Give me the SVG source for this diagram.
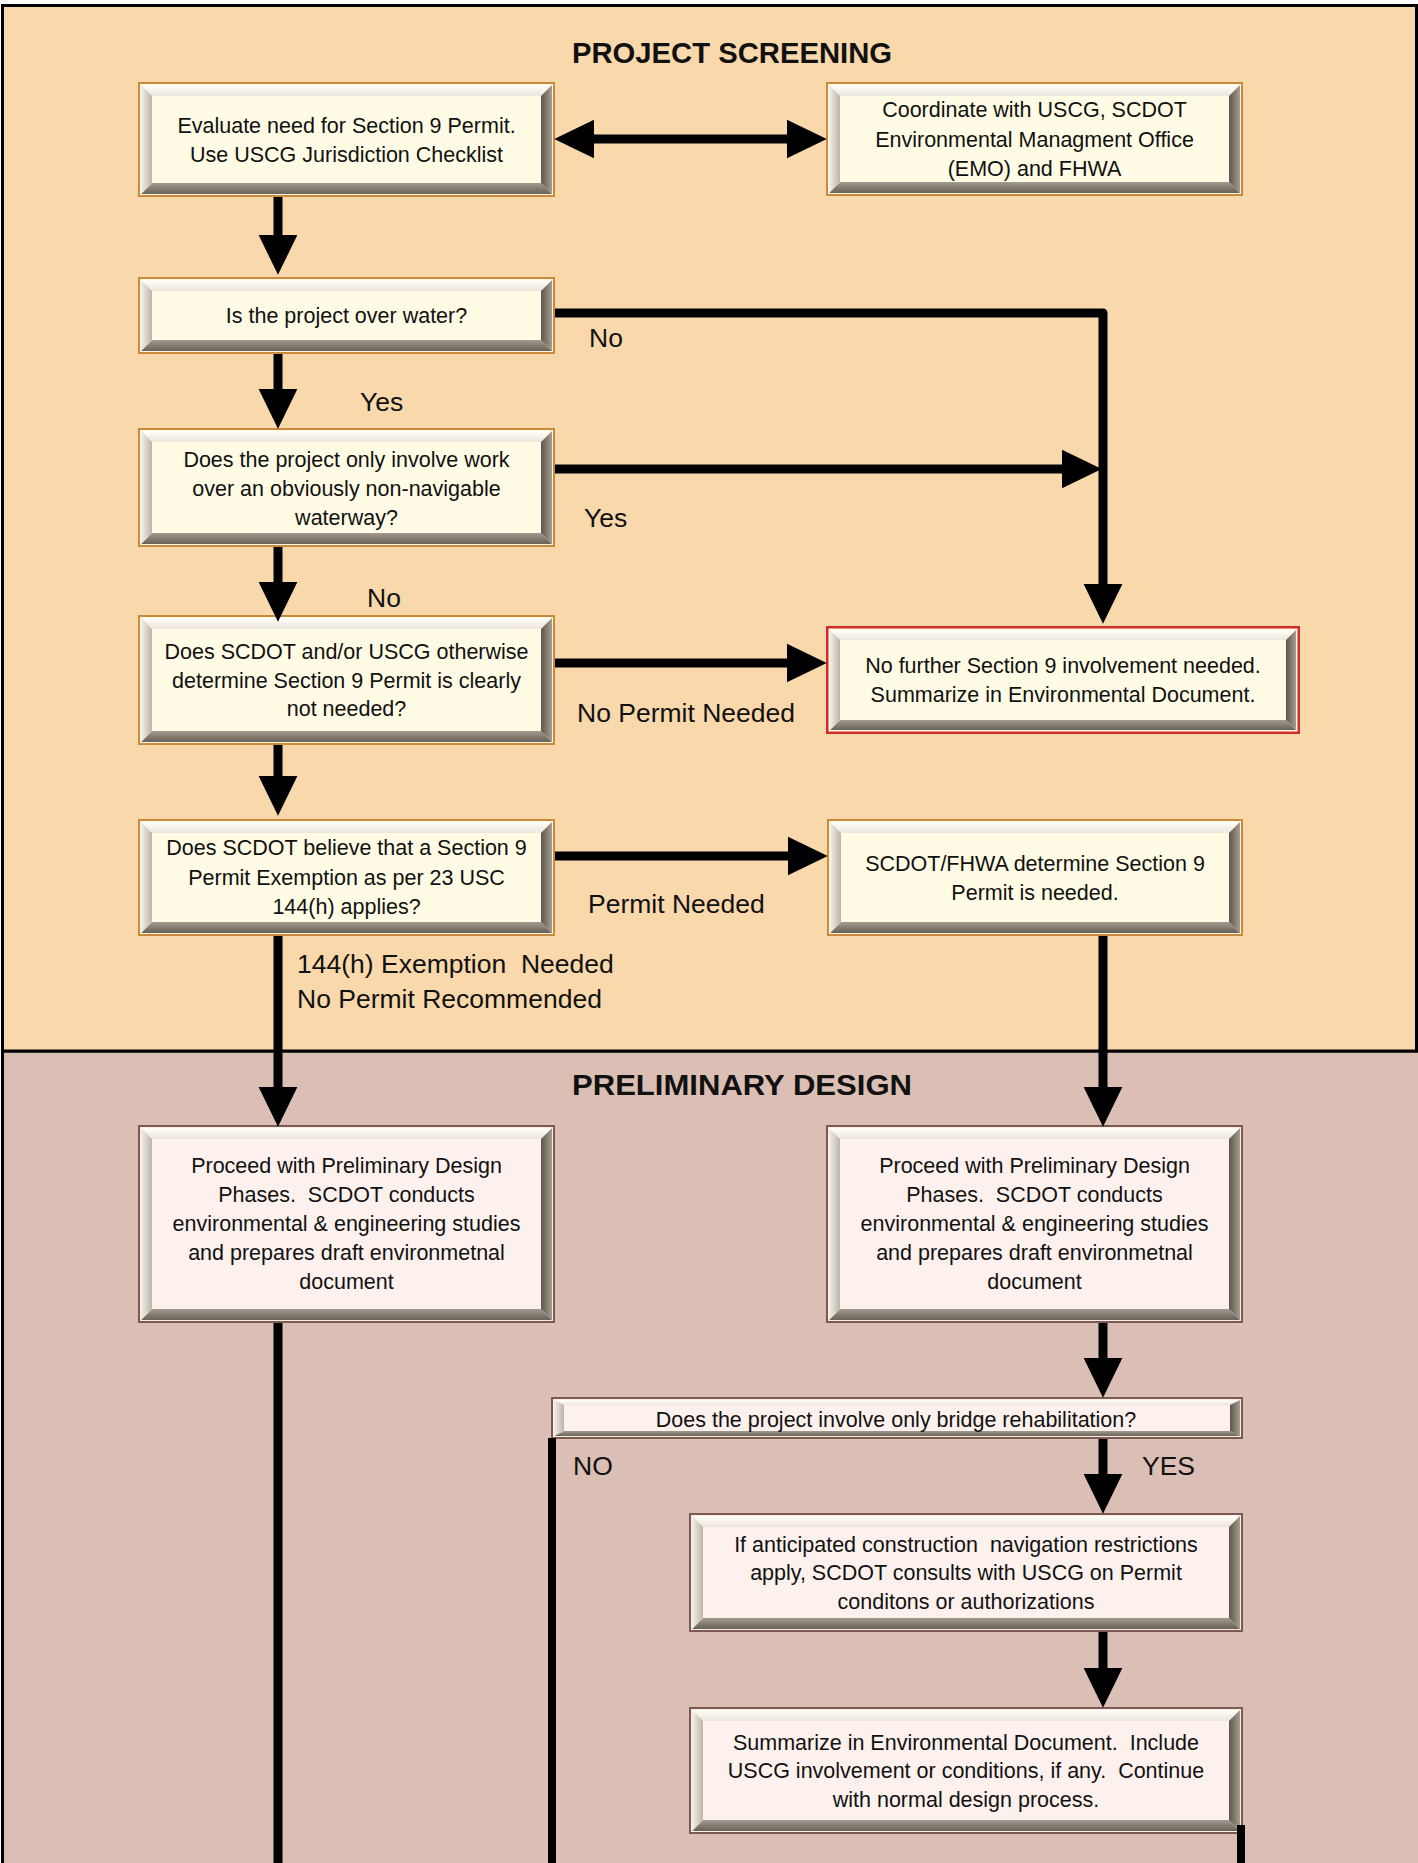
<svg xmlns="http://www.w3.org/2000/svg" width="1418" height="1863" viewBox="0 0 1418 1863">
<defs>
<linearGradient id="gTop" x1="0" y1="0" x2="0" y2="1"><stop offset="0" stop-color="#fffefa"/><stop offset="1" stop-color="#ece6da"/></linearGradient>
<linearGradient id="gLeft" x1="0" y1="0" x2="1" y2="0"><stop offset="0" stop-color="#f4f0e8"/><stop offset="1" stop-color="#bcb4a8"/></linearGradient>
<linearGradient id="gRight" x1="0" y1="0" x2="1" y2="0"><stop offset="0" stop-color="#5e564c"/><stop offset="1" stop-color="#a69d91"/></linearGradient>
<linearGradient id="gBot" x1="0" y1="0" x2="0" y2="1"><stop offset="0" stop-color="#a29a8f"/><stop offset="1" stop-color="#6a6258"/></linearGradient>
<marker id="ah" markerUnits="userSpaceOnUse" markerWidth="40" markerHeight="40" viewBox="0 0 39 38" refX="9" refY="19" orient="auto-start-reverse"><path d="M0,0 L39,19 L0,38 z" fill="#000"/></marker>
<style>
.bt{fill:url(#gTop)}.bl{fill:url(#gLeft)}.br{fill:url(#gRight)}.bb{fill:url(#gBot)}
.oy{fill:#fff8e0;stroke:#c98a3c;stroke-width:2}
.or{fill:#fff8e0;stroke:#d42a2a;stroke-width:2.5}
.op{fill:#fbeee9;stroke:#7d5a50;stroke-width:2}
.fy{fill:#fffbe4}.fp{fill:#fdf1ed}
.t{font-family:"Liberation Sans",Arial,sans-serif;font-size:21.5px;fill:#111;text-anchor:middle}
.lb{font-family:"Liberation Sans",Arial,sans-serif;font-size:26.5px;fill:#111}
.ti{font-family:"Liberation Sans",Arial,sans-serif;font-size:30px;font-weight:bold;fill:#111;text-anchor:middle}
.c{fill:none;stroke:#000;stroke-width:9;stroke-linejoin:round}
.ca{marker-end:url(#ah)}
.cd{marker-start:url(#ah);marker-end:url(#ah)}
</style>
</defs>

<g id="background">
<rect x="2.5" y="1051" width="1430" height="840" fill="#dbbfb4" stroke="#000" stroke-width="3"/>
<rect x="2.5" y="5.5" width="1414" height="1045.5" fill="#f9d8ab" stroke="#000" stroke-width="3"/>
</g>

<g id="titles">
<text class="ti" x="732" y="63" textLength="320" lengthAdjust="spacingAndGlyphs">PROJECT SCREENING</text>
<text class="ti" x="742" y="1095" textLength="340" lengthAdjust="spacingAndGlyphs">PRELIMINARY DESIGN</text>
</g>

<g id="node-evaluate">
<g transform="translate(138,82)">
<rect class="oy" x="1" y="1" width="415" height="113"/>
<polygon class="bt" points="3,3 414,3 403,14 14,14"/>
<polygon class="bb" points="3,112 414,112 403,101 14,101"/>
<polygon class="bl" points="3,3 14,14 14,101 3,112"/>
<polygon class="br" points="414,3 403,14 403,101 414,112"/>
<rect class="fy" x="14" y="14" width="389" height="87"/>
</g>
<text class="t" x="346.5" y="133">Evaluate need for Section 9 Permit.</text>
<text class="t" x="346.5" y="162">Use USCG Jurisdiction Checklist</text>
</g>

<g id="node-coordinate">
<g transform="translate(826,82)">
<rect class="oy" x="1" y="1" width="415" height="112"/>
<polygon class="bt" points="3,3 414,3 403,14 14,14"/>
<polygon class="bb" points="3,111 414,111 403,100 14,100"/>
<polygon class="bl" points="3,3 14,14 14,100 3,111"/>
<polygon class="br" points="414,3 403,14 403,100 414,111"/>
<rect class="fy" x="14" y="14" width="389" height="86"/>
</g>
<text class="t" x="1034.5" y="117">Coordinate with USCG, SCDOT</text>
<text class="t" x="1034.5" y="146.5">Environmental Managment Office</text>
<text class="t" x="1034.5" y="176">(EMO) and FHWA</text>
</g>

<g id="node-water">
<g transform="translate(138,277)">
<rect class="oy" x="1" y="1" width="415" height="75"/>
<polygon class="bt" points="3,3 414,3 403,14 14,14"/>
<polygon class="bb" points="3,74 414,74 403,63 14,63"/>
<polygon class="bl" points="3,3 14,14 14,63 3,74"/>
<polygon class="br" points="414,3 403,14 403,63 414,74"/>
<rect class="fy" x="14" y="14" width="389" height="49"/>
</g>
<text class="t" x="346.5" y="323">Is the project over water?</text>
</g>

<g id="node-nonnavigable">
<g transform="translate(138,428)">
<rect class="oy" x="1" y="1" width="415" height="117"/>
<polygon class="bt" points="3,3 414,3 403,14 14,14"/>
<polygon class="bb" points="3,116 414,116 403,105 14,105"/>
<polygon class="bl" points="3,3 14,14 14,105 3,116"/>
<polygon class="br" points="414,3 403,14 403,105 414,116"/>
<rect class="fy" x="14" y="14" width="389" height="91"/>
</g>
<text class="t" x="346.5" y="467">Does the project only involve work</text>
<text class="t" x="346.5" y="496">over an obviously non-navigable</text>
<text class="t" x="346.5" y="525">waterway?</text>
</g>

<g id="node-otherwise">
<g transform="translate(138,615)">
<rect class="oy" x="1" y="1" width="415" height="128"/>
<polygon class="bt" points="3,3 414,3 403,14 14,14"/>
<polygon class="bb" points="3,127 414,127 403,116 14,116"/>
<polygon class="bl" points="3,3 14,14 14,116 3,127"/>
<polygon class="br" points="414,3 403,14 403,116 414,127"/>
<rect class="fy" x="14" y="14" width="389" height="102"/>
</g>
<text class="t" x="346.5" y="659">Does SCDOT and/or USCG otherwise</text>
<text class="t" x="346.5" y="688">determine Section 9 Permit is clearly</text>
<text class="t" x="346.5" y="716">not needed?</text>
</g>

<g id="node-no-further">
<g transform="translate(826,626)">
<rect class="or" x="1.25" y="1.25" width="471.5" height="105.5"/>
<polygon class="bt" points="4,4 470,4 460,14 14,14"/>
<polygon class="bb" points="4,104 470,104 460,94 14,94"/>
<polygon class="bl" points="4,4 14,14 14,94 4,104"/>
<polygon class="br" points="470,4 460,14 460,94 470,104"/>
<rect class="fy" x="14" y="14" width="446" height="80"/>
</g>
<text class="t" x="1063" y="673">No further Section 9 involvement needed.</text>
<text class="t" x="1063" y="702">Summarize in Environmental Document.</text>
</g>

<g id="node-exemption">
<g transform="translate(138,819)">
<rect class="oy" x="1" y="1" width="415" height="115"/>
<polygon class="bt" points="3,3 414,3 403,14 14,14"/>
<polygon class="bb" points="3,114 414,114 403,103 14,103"/>
<polygon class="bl" points="3,3 14,14 14,103 3,114"/>
<polygon class="br" points="414,3 403,14 403,103 414,114"/>
<rect class="fy" x="14" y="14" width="389" height="89"/>
</g>
<text class="t" x="346.5" y="855">Does SCDOT believe that a Section 9</text>
<text class="t" x="346.5" y="884.5">Permit Exemption as per 23 USC</text>
<text class="t" x="346.5" y="914">144(h) applies?</text>
</g>

<g id="node-permit-needed">
<g transform="translate(827,819)">
<rect class="oy" x="1" y="1" width="414" height="115"/>
<polygon class="bt" points="3,3 413,3 402,14 14,14"/>
<polygon class="bb" points="3,114 413,114 402,103 14,103"/>
<polygon class="bl" points="3,3 14,14 14,103 3,114"/>
<polygon class="br" points="413,3 402,14 402,103 413,114"/>
<rect class="fy" x="14" y="14" width="388" height="89"/>
</g>
<text class="t" x="1035" y="871">SCDOT/FHWA determine Section 9</text>
<text class="t" x="1035" y="900">Permit is needed.</text>
</g>

<g id="node-prelim-left">
<g transform="translate(138,1125)">
<rect class="op" x="1" y="1" width="415" height="196"/>
<polygon class="bt" points="3,3 414,3 403,14 14,14"/>
<polygon class="bb" points="3,195 414,195 403,184 14,184"/>
<polygon class="bl" points="3,3 14,14 14,184 3,195"/>
<polygon class="br" points="414,3 403,14 403,184 414,195"/>
<rect class="fp" x="14" y="14" width="389" height="170"/>
</g>
<text class="t" x="346.5" y="1173">Proceed with Preliminary Design</text>
<text class="t" x="346.5" y="1202" xml:space="preserve">Phases.  SCDOT conducts</text>
<text class="t" x="346.5" y="1231">environmental &amp; engineering studies</text>
<text class="t" x="346.5" y="1260">and prepares draft environmetnal</text>
<text class="t" x="346.5" y="1289">document</text>
</g>

<g id="node-prelim-right">
<g transform="translate(826,1125)">
<rect class="op" x="1" y="1" width="415" height="196"/>
<polygon class="bt" points="3,3 414,3 403,14 14,14"/>
<polygon class="bb" points="3,195 414,195 403,184 14,184"/>
<polygon class="bl" points="3,3 14,14 14,184 3,195"/>
<polygon class="br" points="414,3 403,14 403,184 414,195"/>
<rect class="fp" x="14" y="14" width="389" height="170"/>
</g>
<text class="t" x="1034.5" y="1173">Proceed with Preliminary Design</text>
<text class="t" x="1034.5" y="1202" xml:space="preserve">Phases.  SCDOT conducts</text>
<text class="t" x="1034.5" y="1231">environmental &amp; engineering studies</text>
<text class="t" x="1034.5" y="1260">and prepares draft environmetnal</text>
<text class="t" x="1034.5" y="1289">document</text>
</g>

<g id="node-rehab">
<g transform="translate(551,1397)">
<rect class="op" x="1" y="1" width="690" height="40"/>
<polygon class="bt" points="3,3 689,3 679,8 13,8"/>
<polygon class="bb" points="3,39 689,39 679,34 13,34"/>
<polygon class="bl" points="3,3 13,8 13,34 3,39"/>
<polygon class="br" points="689,3 679,8 679,34 689,39"/>
<rect class="fp" x="13" y="8" width="666" height="26"/>
</g>
<text class="t" x="896" y="1427">Does the project involve only bridge rehabilitation?</text>
</g>

<g id="node-restrictions">
<g transform="translate(689,1513)">
<rect class="op" x="1" y="1" width="552" height="117"/>
<polygon class="bt" points="3,3 551,3 540,14 14,14"/>
<polygon class="bb" points="3,116 551,116 540,105 14,105"/>
<polygon class="bl" points="3,3 14,14 14,105 3,116"/>
<polygon class="br" points="551,3 540,14 540,105 551,116"/>
<rect class="fp" x="14" y="14" width="526" height="91"/>
</g>
<text class="t" x="966" y="1552" xml:space="preserve">If anticipated construction  navigation restrictions</text>
<text class="t" x="966" y="1580">apply, SCDOT consults with USCG on Permit</text>
<text class="t" x="966" y="1609">conditons or authorizations</text>
</g>

<g id="node-summarize">
<g transform="translate(689,1707)">
<rect class="op" x="1" y="1" width="552" height="125"/>
<polygon class="bt" points="3,3 551,3 540,14 14,14"/>
<polygon class="bb" points="3,124 551,124 540,113 14,113"/>
<polygon class="bl" points="3,3 14,14 14,113 3,124"/>
<polygon class="br" points="551,3 540,14 540,113 551,124"/>
<rect class="fp" x="14" y="14" width="526" height="99"/>
</g>
<text class="t" x="966" y="1750" xml:space="preserve">Summarize in Environmental Document.  Include</text>
<text class="t" x="966" y="1778" xml:space="preserve">USCG involvement or conditions, if any.  Continue</text>
<text class="t" x="966" y="1807">with normal design process.</text>
</g>

<g id="connectors">
<path class="c cd" d="M585,139 H796"/>
<path class="c ca" d="M278,197 V244"/>
<path class="c ca" d="M278,354 V398"/>
<path class="c ca" d="M555,313 H1103 V593"/>
<path class="c ca" d="M555,469 H1071"/>
<path class="c ca" d="M278,547 V591"/>
<path class="c ca" d="M555,663 H796"/>
<path class="c ca" d="M278,745 V785"/>
<path class="c ca" d="M555,856 H797"/>
<path class="c ca" d="M1103,936 V1096"/>
<path class="c ca" d="M278,936 V1096"/>
<path class="c" d="M278,1323 V1863"/>
<path class="c ca" d="M1103,1323 V1367"/>
<path class="c" style="stroke-width:8" d="M552,1438 V1863"/>
<path class="c ca" d="M1103,1439 V1483"/>
<path class="c ca" d="M1103,1632 V1677"/>
<path class="c" style="stroke-width:8" d="M1241,1825 V1863"/>
</g>

<g id="labels">
<text class="lb" x="589" y="347">No</text>
<text class="lb" x="360" y="411">Yes</text>
<text class="lb" x="584" y="527">Yes</text>
<text class="lb" x="367" y="607">No</text>
<text class="lb" x="577" y="722">No Permit Needed</text>
<text class="lb" x="588" y="913">Permit Needed</text>
<text class="lb" x="297" y="973" xml:space="preserve">144(h) Exemption  Needed</text>
<text class="lb" x="297" y="1008">No Permit Recommended</text>
<text class="lb" x="573" y="1475">NO</text>
<text class="lb" x="1142" y="1475">YES</text>
</g>
</svg>
